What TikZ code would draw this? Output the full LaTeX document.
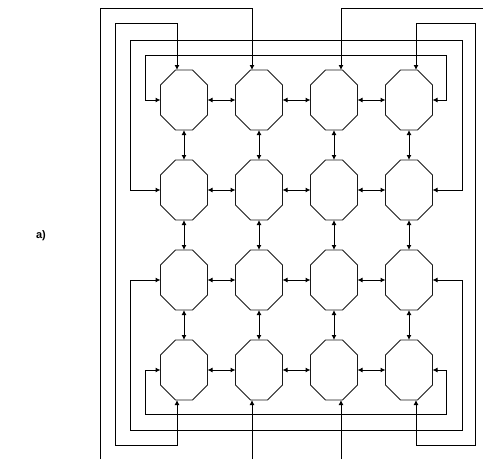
\documentclass[tikz,border=0pt]{standalone}
\usepackage{fontspec}
\setmainfont{Liberation Sans}
\usetikzlibrary{calc,arrows.meta}
\begin{document}
\begin{tikzpicture}[x=1pt,y=-1pt,
  cell/.style={minimum width=47pt,minimum height=60pt,inner sep=0pt,outer sep=0pt},
  octline/.style={line width=0.9pt,black!90},
  wire/.style={line width=1pt,black},
  both/.style={wire,{Latex[length=5pt,width=5pt]}-{Latex[length=5pt,width=5pt]}},
  toend/.style={wire,-{Latex[length=5pt,width=5pt]}}
]
\useasboundingbox (0,0) rectangle (483,459);
% nodes
\foreach \r/\y in {1/100,2/190,3/280,4/370} {
  \foreach \c/\x in {1/184,2/259,3/334,4/409} {
    \node[cell] (n\r\c) at (\x,\y) {};
    \draw[octline] ($(n\r\c.north west)+(15,0)$) -- ($(n\r\c.north east)+(-15,0)$)
      -- ($(n\r\c.north east)+(0,15)$) -- ($(n\r\c.south east)+(0,-15)$)
      -- ($(n\r\c.south east)+(-15,0)$) -- ($(n\r\c.south west)+(15,0)$)
      -- ($(n\r\c.south west)+(0,-15)$) -- ($(n\r\c.north west)+(0,15)$) -- cycle;
  }
}
% neighbour links
\foreach \r in {1,...,4} {
  \foreach \a/\b in {1/2,2/3,3/4} {
    \draw[both] (n\r\a.east) -- (n\r\b.west);
    \draw[both] (n\a\r.south) -- (n\b\r.north);
  }
}
% row wrap-around
\draw[both] (n11.west) -| (145,55) -| (446,100) -- (n14.east);
\draw[both] (n21.west) -| (130,40) -| (462,190) -- (n24.east);
\draw[both] (n31.west) -| (130,430) -| (462,280) -- (n34.east);
\draw[both] (n41.west) -| (145,414) -| (446,370) -- (n44.east);
% column wrap-around
\draw[both] ($(n11.north)+(-7,0)$) |- (115,23) |- (177,445) -- ($(n41.south)+(-7,0)$);
\draw[both] ($(n14.north)+(7,0)$) |- (475,23) |- (416,445) -- ($(n44.south)+(7,0)$);
\coordinate (t2) at (100,459);
\coordinate (b2) at (252,459);
\coordinate (t3) at (483,8);
\coordinate (b3) at (341,459);
\draw[toend] (t2) |- (252,8) -- ($(n12.north)+(-7,0)$);
\draw[toend] (b2) -- ($(n42.south)+(-7,0)$);
\draw[toend] (t3) -| ($(n13.north)+(7,0)$);
\draw[toend] (b3) -- ($(n43.south)+(7,0)$);
% label
\node[font=\bfseries\fontsize{11}{13}\selectfont] (lab) at (41,236) {a)};
\end{tikzpicture}
\end{document}
